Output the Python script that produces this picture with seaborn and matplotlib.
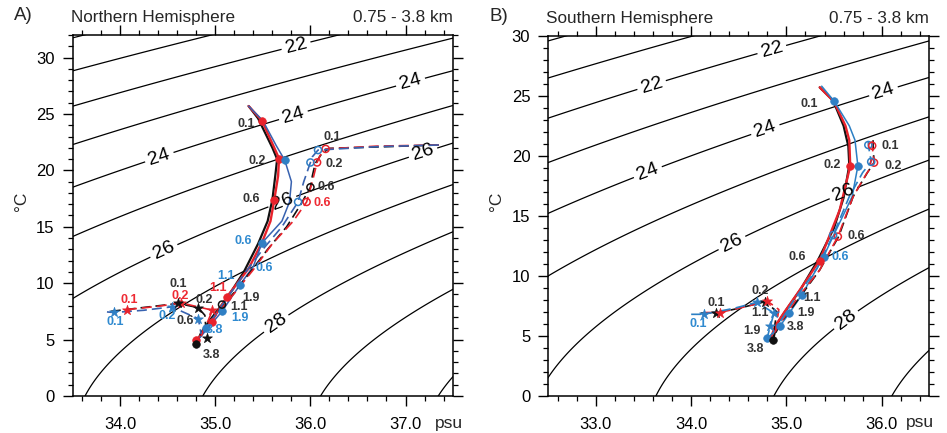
import numpy as np
import pandas as pd
import matplotlib
matplotlib.use("Agg")
import matplotlib.pyplot as plt
import seaborn as sns
from matplotlib.ticker import MultipleLocator, FormatStrFormatter

# ---------------------------------------------------------------- data
# Northern Hemisphere: upper (solid) profiles, salinity / potential temperature
NH_UP_BLACK_S = [35.35, 35.45, 35.60, 35.65, 35.63, 35.60, 35.55, 35.45, 35.30, 35.17, 35.07, 34.95, 34.85, 34.80]
NH_UP_BLACK_T = [25.7, 24.6, 22.0, 21.0, 19.5, 17.4, 15.5, 13.5, 11.0, 9.3, 8.1, 6.8, 5.6, 4.6]
NH_UP_RED_S = [35.35, 35.49, 35.62, 35.67, 35.66, 35.62, 35.58, 35.49, 35.35, 35.12, 34.96, 34.84, 34.79]
NH_UP_RED_T = [25.7, 24.4, 22.0, 21.05, 19.5, 17.4, 15.5, 13.6, 11.3, 8.77, 6.6, 5.3, 4.95]
NH_UP_BLUE_S = [35.35, 35.50, 35.64, 35.73, 35.80, 35.78, 35.70, 35.49, 35.40, 35.26, 35.07, 34.92, 34.84]
NH_UP_BLUE_T = [25.7, 24.4, 22.2, 20.9, 19.0, 17.2, 15.5, 13.56, 11.5, 9.87, 7.5, 6.0, 5.2]

# Northern Hemisphere: outflow (dashed, open circles) profiles
NH_MID_BLACK_S = [37.35, 36.80, 36.20, 36.12, 36.05, 36.02, 36.00, 35.90, 35.75, 35.55, 35.35, 35.20, 35.05, 34.90, 34.82]
NH_MID_BLACK_T = [22.25, 22.10, 21.95, 21.5, 20.6, 19.5, 18.5, 17.0, 15.0, 13.0, 10.8, 9.2, 7.7, 6.2, 5.0]
NH_MID_RED_S = [37.35, 36.70, 36.16, 36.10, 36.07, 36.02, 35.96, 35.82, 35.60, 35.40, 35.22, 35.05, 34.90, 34.82]
NH_MID_RED_T = [22.25, 22.15, 21.9, 21.3, 20.7, 19.0, 17.2, 15.5, 13.5, 11.2, 9.3, 7.6, 6.1, 5.0]
NH_MID_BLUE_S = [37.35, 36.70, 36.08, 36.02, 36.00, 35.93, 35.87, 35.70, 35.50, 35.32, 35.15, 35.00, 34.88, 34.80]
NH_MID_BLUE_T = [22.25, 22.10, 21.8, 21.2, 20.7, 19.0, 17.2, 15.0, 13.0, 11.0, 9.0, 7.2, 5.8, 4.9]

# Northern Hemisphere: deep (dashed, stars) profiles
NH_DEEP_BLACK_S = [33.90, 34.30, 34.61, 34.82, 34.89, 34.90, 34.91]
NH_DEEP_BLACK_T = [7.5, 7.9, 8.2, 7.83, 7.15, 6.0, 5.1]
NH_DEEP_RED_S = [34.07, 34.40, 34.64, 34.97, 34.92, 34.87, 34.85]
NH_DEEP_RED_T = [7.66, 7.95, 8.25, 7.6, 6.6, 5.8, 5.3]
NH_DEEP_BLUE_S = [33.86, 33.93, 34.25, 34.54, 34.74, 34.82, 34.84, 34.85]
NH_DEEP_BLUE_T = [7.45, 7.4, 7.6, 7.9, 7.15, 6.86, 6.0, 5.5]

# Southern Hemisphere: upper (solid) profiles
SH_UP_BLACK_S = [35.35, 35.49, 35.60, 35.65, 35.66, 35.60, 35.50, 35.33, 35.15, 35.00, 34.90, 34.86]
SH_UP_BLACK_T = [25.7, 24.6, 22.5, 20.8, 19.2, 16.5, 14.0, 11.3, 8.9, 7.2, 6.0, 4.7]
SH_UP_RED_S = [35.35, 35.50, 35.62, 35.66, 35.67, 35.56, 35.35, 35.13, 34.98, 34.88, 34.84]
SH_UP_RED_T = [25.7, 24.5, 22.5, 21.3, 19.15, 15.5, 11.3, 8.7, 7.0, 5.8, 4.9]
SH_UP_BLUE_S = [35.37, 35.50, 35.66, 35.72, 35.75, 35.69, 35.49, 35.39, 35.16, 35.03, 34.93, 34.80]
SH_UP_BLUE_T = [25.8, 24.56, 22.5, 21.3, 19.15, 16.6, 13.3, 11.6, 8.4, 6.9, 5.8, 4.8]

# Southern Hemisphere: dashed, open circle profiles
SH_MID_BLACK_S = [35.91, 35.91, 35.92, 35.85, 35.70, 35.55, 35.35, 35.12, 34.95, 34.87]
SH_MID_BLACK_T = [21.3, 20.84, 19.43, 18.6, 16.6, 13.3, 10.5, 8.0, 6.2, 5.0]
SH_MID_RED_S = [35.90, 35.90, 35.92, 35.84, 35.70, 35.54, 35.35, 35.10, 34.93, 34.85]
SH_MID_RED_T = [21.2, 20.84, 19.43, 18.5, 16.6, 13.27, 10.5, 8.0, 6.0, 5.0]
SH_MID_BLUE_S = [35.86, 35.86, 35.89, 35.80, 35.66, 35.49, 35.32, 35.08, 34.92, 34.84]
SH_MID_BLUE_T = [21.2, 20.9, 19.5, 18.6, 16.6, 13.4, 10.6, 8.0, 6.0, 5.0]

# Southern Hemisphere: dashed, star profiles
SH_DEEP_BLACK_S = [34.10, 34.26, 34.50, 34.78, 34.90, 34.88, 34.87]
SH_DEEP_BLACK_T = [6.9, 6.9, 7.3, 7.86, 7.0, 6.0, 5.0]
SH_DEEP_RED_S = [34.15, 34.30, 34.55, 34.80, 34.92, 34.90, 34.88]
SH_DEEP_RED_T = [6.95, 6.95, 7.4, 7.9, 7.2, 6.2, 5.2]
SH_DEEP_BLUE_S = [34.00, 34.13, 34.45, 34.69, 34.87, 34.83, 34.80]
SH_DEEP_BLUE_T = [6.8, 6.8, 7.3, 7.8, 6.9, 5.8, 4.9]

# depth markers (km) along the profiles
NH_DOT_S = [35.49, 35.67, 35.62, 35.12, 34.96, 34.80, 35.73, 35.49, 35.26, 35.07, 34.90, 34.80]
NH_DOT_T = [24.4, 21.05, 17.4, 8.77, 6.6, 5.0, 20.9, 13.56, 9.87, 7.5, 6.0, 4.6]
NH_DOT_C = ["red", "red", "red", "red", "red", "red", "blue", "blue", "blue", "blue", "blue", "black"]
NH_RING_S = [36.16, 36.07, 35.96, 36.08, 36.00, 35.87, 36.00, 35.07]
NH_RING_T = [21.9, 20.7, 17.2, 21.8, 20.7, 17.2, 18.5, 8.1]
NH_RING_C = ["red", "red", "red", "blue", "blue", "blue", "black", "black"]
NH_STAR_S = [33.93, 34.54, 34.82, 34.07, 34.64, 34.97, 34.61, 34.82, 34.91]
NH_STAR_T = [7.4, 7.9, 6.86, 7.66, 8.25, 7.6, 8.2, 7.83, 5.1]
NH_STAR_C = ["blue", "blue", "blue", "red", "red", "red", "black", "black", "black"]

SH_DOT_S = [35.50, 35.75, 35.39, 35.16, 35.03, 34.93, 34.80, 35.67, 35.35, 34.86]
SH_DOT_T = [24.56, 19.15, 11.6, 8.4, 6.9, 5.8, 4.8, 19.15, 11.2, 4.7]
SH_DOT_C = ["blue", "blue", "blue", "blue", "blue", "blue", "blue", "red", "red", "black"]
SH_RING_S = [35.86, 35.90, 35.92, 35.89, 35.54, 35.49]
SH_RING_T = [20.9, 20.84, 19.43, 19.5, 13.27, 13.4]
SH_RING_C = ["blue", "red", "red", "blue", "red", "blue"]
SH_STAR_S = [34.13, 34.69, 34.87, 34.83, 34.26, 34.78, 34.30, 34.80]
SH_STAR_T = [6.8, 7.8, 6.9, 5.8, 6.9, 7.86, 6.95, 7.9]
SH_STAR_C = ["blue", "blue", "blue", "blue", "black", "black", "red", "red"]

# depth labels (km)
NH_LAB_TEXT = ["0.1", "0.2", "0.6", "0.1", "0.2", "0.6", "0.6", "0.6", "0.6", "1.1", "1.1",
               "1.9", "1.1", "1.9", "3.8", "3.8", "0.1", "0.2", "0.2", "0.1", "0.1", "0.2", "0.6"]
NH_LAB_S = [35.33, 35.44, 35.38, 36.23, 36.25, 36.17, 36.12, 35.29, 35.51, 35.11, 35.03,
            35.37, 35.25, 35.26, 34.99, 34.96, 34.61, 34.63, 34.88, 34.09, 33.95, 34.49, 34.68]
NH_LAB_T = [24.1, 20.86, 17.46, 22.99, 20.57, 18.56, 17.08, 13.74, 11.32, 10.6, 9.6,
            8.68, 7.85, 6.95, 5.85, 3.63, 9.95, 8.88, 8.5, 8.51, 6.59, 7.12, 6.65]
NH_LAB_C = ["black", "black", "black", "black", "black", "black", "red", "blue", "blue", "blue", "red",
            "black", "black", "blue", "blue", "black", "black", "red", "black", "red", "blue", "blue", "black"]

SH_LAB_TEXT = ["0.1", "0.2", "0.1", "0.2", "0.6", "0.6", "0.6", "1.1", "1.9", "3.8",
               "1.1", "1.9", "3.8", "0.1", "0.1", "0.2"]
SH_LAB_S = [35.24, 35.48, 36.09, 36.12, 35.73, 35.56, 35.11, 35.27, 35.21, 35.09,
            34.72, 34.64, 34.67, 34.26, 34.07, 34.72]
SH_LAB_T = [24.3, 19.23, 20.8, 19.15, 13.3, 11.6, 11.55, 8.13, 6.89, 5.77,
            6.89, 5.44, 3.91, 7.72, 6.0, 8.77]
SH_LAB_C = ["black", "black", "black", "black", "black", "blue", "black", "black", "black", "black",
            "black", "black", "black", "black", "blue", "black"]

# isopycnal label anchors (salinity, temperature)
NH_CLABEL_S = [35.85, 37.05, 35.82, 34.39, 37.21, 35.71, 34.42, 35.65]
NH_CLABEL_T = [31.0, 27.9, 24.9, 21.7, 20.9, 17.1, 13.56, 6.3]
SH_CLABEL_S = [34.85, 33.59, 36.02, 34.78, 33.55, 35.60, 34.43, 35.61]
SH_CLABEL_T = [28.75, 25.75, 25.34, 22.15, 18.54, 16.88, 12.71, 6.5]

LABELED_LEVELS = [22, 24, 26, 28]
PLAIN_LEVELS = [18, 19, 20, 21, 23, 25, 27, 29, 30, 31]

# ---------------------------------------------------------------- style
LINE_COLORS = {
    "A": {"black": "#111111", "red": "#e8222b", "blue": "#3862b0"},
    "B": {"black": "#111111", "red": "#e8222b", "blue": "#2b7fc4"},
}
MARK_COLORS = {"black": "#111111", "red": "#e8222b", "blue": "#2f7fc4"}
LABEL_COLORS = {"black": "#333333", "red": "#ee2a33", "blue": "#2f8ad0"}

sns.set_theme(style="ticks")
plt.rcParams["font.family"] = ["Liberation Sans", "DejaVu Sans"]
plt.rcParams["axes.linewidth"] = 1.1


def sigma_theta(S, T):
    """UNESCO (EOS-80) density anomaly at the surface, kg m-3."""
    rw = (999.842594 + 6.793952e-2 * T - 9.095290e-3 * T**2 + 1.001685e-4 * T**3
          - 1.120083e-6 * T**4 + 6.536332e-9 * T**5)
    A = 8.24493e-1 - 4.0899e-3 * T + 7.6438e-5 * T**2 - 8.2467e-7 * T**3 + 5.3875e-9 * T**4
    B = -5.72466e-3 + 1.0227e-4 * T - 1.6546e-6 * T**2
    C = 4.8314e-4
    return rw + A * S + B * S**1.5 + C * S**2 - 1000.0


def draw_line(ax, S, T, color, dashed=False, lw=1.3):
    df = pd.DataFrame({"S": S, "T": T})
    sns.lineplot(data=df, x="S", y="T", sort=False, estimator=None, ax=ax,
                 color=color, lw=lw, linestyle=(0, (6, 3)) if dashed else "-",
                 legend=False)


def draw_marks(ax, S, T, C, marker, filled=True, size=30):
    for s, t, c in zip(S, T, C):
        if filled:
            sns.scatterplot(x=[s], y=[t], ax=ax, marker=marker, s=size, color=MARK_COLORS[c],
                            edgecolor=MARK_COLORS[c], linewidth=0.5, legend=False, zorder=5)
        else:
            sns.scatterplot(x=[s], y=[t], ax=ax, marker=marker, s=size, facecolor="none",
                            edgecolor=MARK_COLORS[c], linewidth=1.1, legend=False, zorder=5)


def setup_axes(ax, xlim, ylim):
    ax.set_xlim(*xlim)
    ax.set_ylim(*ylim)
    ax.xaxis.set_major_locator(MultipleLocator(1.0))
    ax.xaxis.set_minor_locator(MultipleLocator(0.2))
    ax.xaxis.set_major_formatter(FormatStrFormatter("%.1f"))
    ax.yaxis.set_major_locator(MultipleLocator(5))
    ax.yaxis.set_minor_locator(MultipleLocator(1))
    ax.tick_params(which="both", direction="out", top=True, right=True,
                   labeltop=False, labelright=False, labelsize=12, colors="black")
    ax.tick_params(which="major", length=7, width=1.0)
    ax.tick_params(which="minor", length=3.6, width=0.9)
    ax.tick_params(axis="x", which="major", pad=8)
    ax.tick_params(axis="y", which="major", pad=6)
    ax.set_xlabel("")
    ax.set_ylabel("")
    for sp in ax.spines.values():
        sp.set_visible(True)
        sp.set_color("black")
        sp.set_linewidth(1.1)


def draw_isopycnals(ax, xlim, ylim, lab_S, lab_T):
    ax.set_xlim(*xlim)
    ax.set_ylim(*ylim)
    Sg = np.linspace(xlim[0] - 0.5, xlim[1] + 0.5, 300)
    Tg = np.linspace(ylim[0] - 1, ylim[1] + 1, 300)
    SS, TT = np.meshgrid(Sg, Tg)
    sig = sigma_theta(SS, TT)
    ax.contour(SS, TT, sig, levels=PLAIN_LEVELS, colors="black", linewidths=0.9, zorder=1)
    cs = ax.contour(SS, TT, sig, levels=LABELED_LEVELS, colors="black", linewidths=0.9, zorder=1)
    ax.set_xlim(*xlim)
    ax.set_ylim(*ylim)
    ax.clabel(cs, inline=True, inline_spacing=4, fmt="%d", fontsize=14,
              manual=list(zip(lab_S, lab_T)))


def draw_labels(ax, text, S, T, C):
    for tx, s, t, c in zip(text, S, T, C):
        ax.text(s, t, tx, color=LABEL_COLORS[c], fontsize=9, fontweight="bold",
                ha="center", va="center", zorder=6)


fig = plt.figure(figsize=(9.47, 4.33), dpi=100)
axA = fig.add_axes([0.0768, 0.0855, 0.4016, 0.8337])
axB = fig.add_axes([0.5790, 0.0855, 0.4023, 0.8320])

panels = [
    (axA, "A", (33.5, 37.5), (0, 32), "A)", "Northern Hemisphere", 0.953,
     [(NH_UP_BLACK_S, NH_UP_BLACK_T, "black", 1.6), (NH_UP_RED_S, NH_UP_RED_T, "red", 1.7),
      (NH_UP_BLUE_S, NH_UP_BLUE_T, "blue", 1.1)],
     [(NH_MID_BLACK_S, NH_MID_BLACK_T, "black"), (NH_MID_RED_S, NH_MID_RED_T, "red"),
      (NH_MID_BLUE_S, NH_MID_BLUE_T, "blue"),
      (NH_DEEP_BLACK_S, NH_DEEP_BLACK_T, "black"), (NH_DEEP_RED_S, NH_DEEP_RED_T, "red"),
      (NH_DEEP_BLUE_S, NH_DEEP_BLUE_T, "blue")],
     (NH_DOT_S, NH_DOT_T, NH_DOT_C), (NH_RING_S, NH_RING_T, NH_RING_C),
     (NH_STAR_S, NH_STAR_T, NH_STAR_C),
     (NH_LAB_TEXT, NH_LAB_S, NH_LAB_T, NH_LAB_C), (NH_CLABEL_S, NH_CLABEL_T)),
    (axB, "B", (32.5, 36.5), (0, 30), "B)", "Southern Hemisphere", 0.939,
     [(SH_UP_BLACK_S, SH_UP_BLACK_T, "black", 1.6), (SH_UP_RED_S, SH_UP_RED_T, "red", 1.7),
      (SH_UP_BLUE_S, SH_UP_BLUE_T, "blue", 1.1)],
     [(SH_MID_BLACK_S, SH_MID_BLACK_T, "black"), (SH_MID_RED_S, SH_MID_RED_T, "red"),
      (SH_MID_BLUE_S, SH_MID_BLUE_T, "blue"),
      (SH_DEEP_BLACK_S, SH_DEEP_BLACK_T, "black"), (SH_DEEP_RED_S, SH_DEEP_RED_T, "red"),
      (SH_DEEP_BLUE_S, SH_DEEP_BLUE_T, "blue")],
     (SH_DOT_S, SH_DOT_T, SH_DOT_C), (SH_RING_S, SH_RING_T, SH_RING_C),
     (SH_STAR_S, SH_STAR_T, SH_STAR_C),
     (SH_LAB_TEXT, SH_LAB_S, SH_LAB_T, SH_LAB_C), (SH_CLABEL_S, SH_CLABEL_T)),
]

for (ax, key, xlim, ylim, tag, title, psu_x, solid, dashed, dots, rings, stars, labs, clab) in panels:
    draw_isopycnals(ax, xlim, ylim, *clab)
    for S, T, c, lw in solid:
        draw_line(ax, S, T, LINE_COLORS[key][c], dashed=False, lw=lw)
    for S, T, c in dashed:
        draw_line(ax, S, T, LINE_COLORS[key][c], dashed=True, lw=1.2)
    draw_marks(ax, *dots, marker="o", filled=True, size=30)
    draw_marks(ax, *rings, marker="o", filled=False, size=26)
    draw_marks(ax, *stars, marker="*", filled=True, size=55)
    draw_labels(ax, *labs)
    setup_axes(ax, xlim, ylim)

    ax.text(-0.005, 1.028, title, transform=ax.transAxes, ha="left", va="bottom", fontsize=12.3)
    ax.text(1.0, 1.028, "0.75 - 3.8 km", transform=ax.transAxes, ha="right", va="bottom",
            fontsize=12.3)
    ax.text(-0.155, 1.03, tag, transform=ax.transAxes, ha="left", va="bottom", fontsize=13.5)
    ax.text(-0.135, 0.54, "\u00b0C", transform=ax.transAxes, rotation=90, ha="center",
            va="center", fontsize=12.5)
    ax.text(psu_x, -0.075, "psu", transform=ax.transAxes, ha="left", va="center", fontsize=12.5)

fig.savefig("out.png", dpi=100)
